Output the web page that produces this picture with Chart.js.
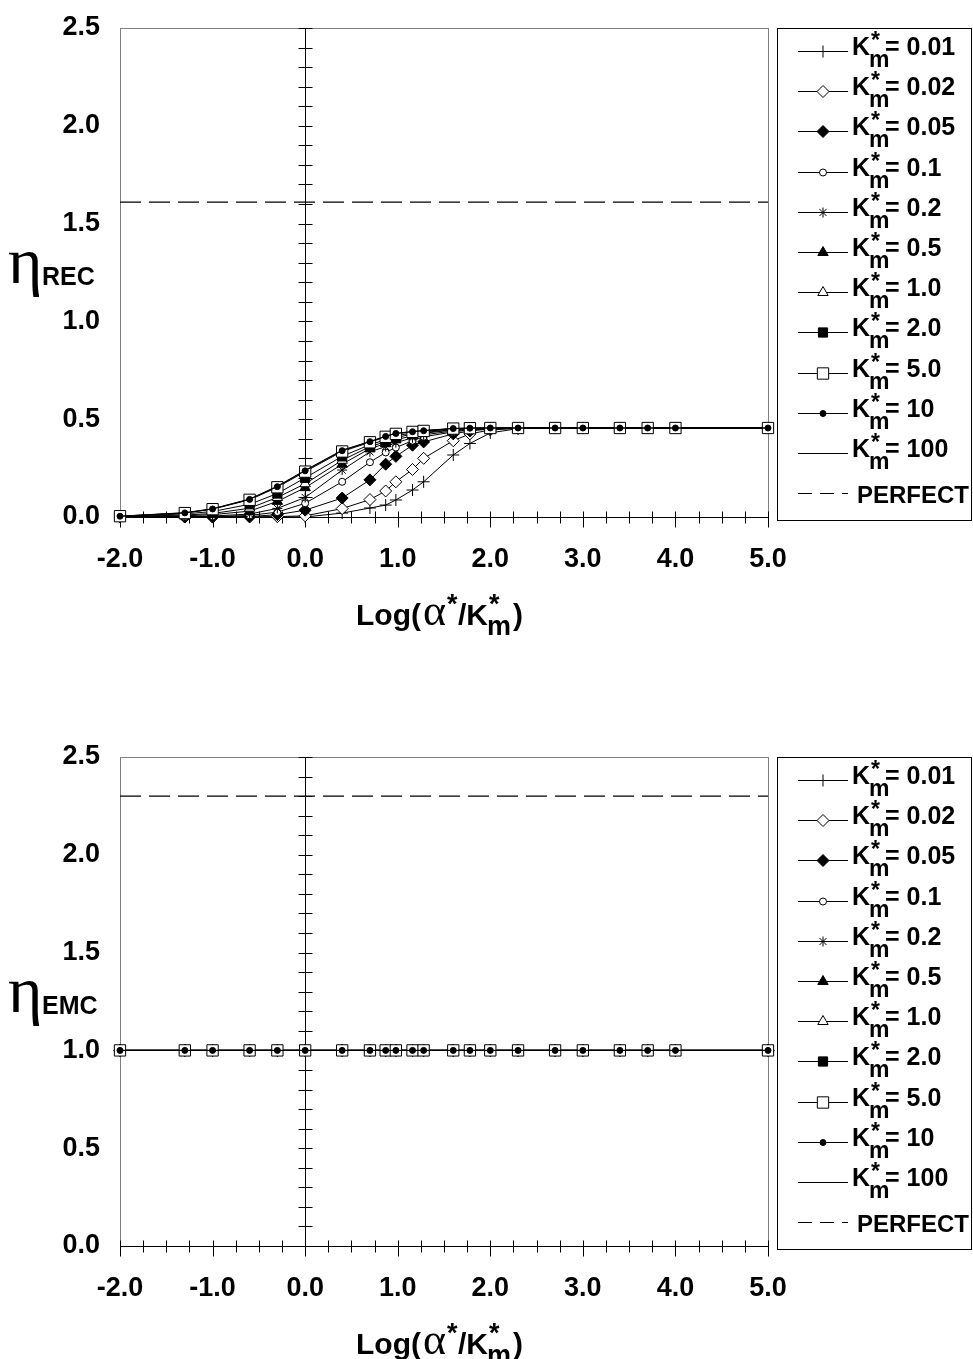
<!DOCTYPE html>
<html lang="en">
<head>
<meta charset="UTF-8">
<title>eta REC / eta EMC vs Log(alpha*/Km*)</title>
<script src="https://cdn.jsdelivr.net/npm/chart.js"></script>
<style>
  body { margin: 0; background: #fff; }
  #page { position: relative; width: 973px; height: 1359px; overflow: hidden;
          font-family: "Liberation Sans", Arial, sans-serif; color: #000; }
  canvas { position: absolute; left: 0; }
  .txt { position: absolute; white-space: nowrap; font-weight: bold; font-size: 25px; line-height: 25px; }
  .perf { font-size: 24px; }
  .big { font-size: 30px; line-height: 30px; }
  .sm { display: inline-block; position: relative; width: 15px; height: 25px; vertical-align: top; }
  .sp { position: absolute; left: 1px; top: -6px; font-size: 23px; }
  .sb { position: absolute; left: -1px; top: 13px; font-size: 23px; }
  .big .sm { width: 25px; height: 30px; }
  .big .sp { top: -7px; font-size: 27px; }
  .big .sb { top: 15px; font-size: 27px; }
  .eta { position: absolute; font-family: "Liberation Serif", serif; font-size: 66px; line-height: 66px; }
  .alpha { font-family: "Liberation Serif", serif; font-weight: normal; font-size: 44px; margin-left: 2px; }
</style>
</head>
<body>
<div id="page">
  <canvas id="recChart" width="973" height="650" style="top:0px"></canvas>
  <canvas id="emcChart" width="973" height="630" style="top:729px"></canvas>
</div>

<script>
// x positions: Log(alpha*/Km*)
const logX = [-2.0, -1.3, -1.0, -0.6, -0.3, 0.0, 0.4, 0.7, 0.87, 0.98, 1.16, 1.28, 1.6, 1.78, 2.0, 2.3, 2.7, 3.0, 3.4, 3.7, 4.0, 5.0];

const kmLabels = ['0.01', '0.02', '0.05', '0.1', '0.2', '0.5', '1.0', '2.0', '5.0', '10', '100'];

// eta REC, one array per Km*
const recK001 = [0.0, 0.0, 0.0, 0.0, 0.0, 0.0, 0.02, 0.046, 0.061, 0.087, 0.138, 0.18, 0.317, 0.376, 0.43, 0.452, 0.455, 0.455, 0.455, 0.455, 0.455, 0.455];
const recK002 = [0.0, 0.0, 0.0, 0.0, 0.002, 0.006, 0.043, 0.089, 0.133, 0.18, 0.243, 0.30, 0.39, 0.425, 0.445, 0.453, 0.455, 0.455, 0.455, 0.455, 0.455, 0.455];
const recK005 = [0.0, 0.0, 0.0, 0.002, 0.012, 0.035, 0.097, 0.19, 0.27, 0.31, 0.367, 0.384, 0.425, 0.44, 0.45, 0.455, 0.455, 0.455, 0.455, 0.455, 0.455, 0.455];
const recK01  = [0.0, 0.0, 0.002, 0.008, 0.025, 0.07, 0.18, 0.28, 0.33, 0.355, 0.39, 0.41, 0.435, 0.445, 0.45, 0.455, 0.455, 0.455, 0.455, 0.455, 0.455, 0.455];
const recK02  = [0.0, 0.002, 0.005, 0.015, 0.044, 0.10, 0.24, 0.333, 0.36, 0.38, 0.405, 0.42, 0.44, 0.448, 0.452, 0.455, 0.455, 0.455, 0.455, 0.455, 0.455, 0.455];
const recK05  = [0.001, 0.006, 0.012, 0.03, 0.08, 0.15, 0.27, 0.35, 0.375, 0.395, 0.415, 0.428, 0.445, 0.45, 0.454, 0.455, 0.455, 0.455, 0.455, 0.455, 0.455, 0.455];
const recK1   = [0.002, 0.01, 0.018, 0.045, 0.10, 0.17, 0.29, 0.36, 0.385, 0.405, 0.425, 0.432, 0.447, 0.452, 0.455, 0.455, 0.455, 0.455, 0.455, 0.455, 0.455, 0.455];
const recK2   = [0.003, 0.016, 0.028, 0.065, 0.12, 0.20, 0.31, 0.37, 0.395, 0.415, 0.43, 0.437, 0.45, 0.453, 0.455, 0.455, 0.455, 0.455, 0.455, 0.455, 0.455, 0.455];
const recK5   = [0.004, 0.02, 0.04, 0.088, 0.152, 0.232, 0.335, 0.382, 0.41, 0.425, 0.435, 0.44, 0.452, 0.454, 0.455, 0.455, 0.455, 0.455, 0.455, 0.455, 0.455, 0.455];
const recK10  = [0.004, 0.021, 0.041, 0.09, 0.155, 0.236, 0.339, 0.385, 0.412, 0.427, 0.436, 0.441, 0.452, 0.454, 0.455, 0.455, 0.455, 0.455, 0.455, 0.455, 0.455, 0.455];
const recK100 = [0.004, 0.022, 0.042, 0.092, 0.158, 0.239, 0.342, 0.386, 0.413, 0.428, 0.437, 0.442, 0.453, 0.455, 0.455, 0.455, 0.455, 0.455, 0.455, 0.455, 0.455, 0.455];

// eta EMC: every Km* series sits on 1.0
const emcAll = [1.0, 1.0, 1.0, 1.0, 1.0, 1.0, 1.0, 1.0, 1.0, 1.0, 1.0, 1.0, 1.0, 1.0, 1.0, 1.0, 1.0, 1.0, 1.0, 1.0, 1.0, 1.0];

const perfectREC = 1.61;
const perfectEMC = 2.30;

const xTickVals = [-2, -1, 0, 1, 2, 3, 4, 5];
const yTickVals = [0, 0.5, 1.0, 1.5, 2.0, 2.5];

const recSeries = [recK001, recK002, recK005, recK01, recK02, recK05, recK1, recK2, recK5, recK10, recK100];
const emcSeries = kmLabels.map(() => emcAll);

// marker look for each Km* (Excel style)
const markers = [
  { style: 'cross',    r: 6,   fill: '#000' },
  { style: 'rectRot',  r: 6,   fill: '#fff' },
  { style: 'rectRot',  r: 6,   fill: '#000' },
  { style: 'circle',   r: 3.5, fill: '#fff' },
  { style: 'star',     r: 5,   fill: '#fff' },
  { style: 'triangle', r: 6,   fill: '#000' },
  { style: 'triangle', r: 6,   fill: '#fff' },
  { style: 'rect',     r: 6.5, fill: '#000' },
  { style: 'rect',     r: 8,   fill: '#fff' },
  { style: 'circle',   r: 3,   fill: '#000' },
  { style: 'line',     r: 3,   fill: '#000' }
];

const PLOT_TOP = 28, PLOT_BOTTOM = 517;
const LEG = { left: 777, top: 28, w: 194, h: 492, first: 51, step: 40.2, x1: 798, x2: 848, tx: 852 };

// crossing axes at x=0 / y=0 with Excel style tick marks
const crossAxes = {
  id: 'crossAxes',
  beforeDatasetsDraw(chart) {
    const { ctx, chartArea: a, scales: { x, y } } = chart;
    ctx.save();
    ctx.lineWidth = 1;
    ctx.strokeStyle = '#808080';
    ctx.strokeRect(a.left + 0.5, a.top + 0.5, a.right - a.left, a.bottom - a.top);
    ctx.strokeStyle = '#000';
    ctx.beginPath();
    const y0 = Math.round(y.getPixelForValue(0)) + 0.5;
    ctx.moveTo(a.left, y0); ctx.lineTo(a.right + 1, y0);
    for (let i = 0; i <= 28; i++) {
      const v = -2 + i * 0.25;
      const px = Math.round(x.getPixelForValue(v)) + 0.5;
      const major = i % 4 === 0;
      ctx.moveTo(px, y0 - 6); ctx.lineTo(px, y0 + (major ? 10 : 6));
    }
    const x0 = Math.round(x.getPixelForValue(0)) + 0.5;
    ctx.moveTo(x0, a.top); ctx.lineTo(x0, a.bottom);
    for (let i = 0; i <= 25; i++) {
      const py = Math.round(y.getPixelForValue(i / 10)) + 0.5;
      ctx.moveTo(x0 - 7, py); ctx.lineTo(x0 + 7, py);
    }
    ctx.stroke();
    ctx.restore();
  }
};

function drawMarker(ctx, m, cx, cy) {
  ctx.fillStyle = m.fill;
  ctx.strokeStyle = '#000';
  ctx.lineWidth = 1;
  Chart.helpers.drawPoint(ctx, { pointStyle: m.style, radius: m.r, rotation: 0, borderWidth: 1 }, cx, cy);
}

// legend box with line samples; label text is html
const legendBox = {
  id: 'legendBox',
  afterDraw(chart) {
    const ctx = chart.ctx;
    ctx.save();
    ctx.strokeStyle = '#000';
    ctx.lineWidth = 1;
    ctx.strokeRect(LEG.left + 0.5, LEG.top + 0.5, LEG.w, LEG.h);
    chart.data.datasets.forEach((ds, i) => {
      const yy = Math.round(LEG.first + i * LEG.step) + 0.5;
      ctx.beginPath();
      ctx.setLineDash(ds.legendDash || []);
      ctx.moveTo(LEG.x1, yy); ctx.lineTo(LEG.x2, yy);
      ctx.stroke();
      ctx.setLineDash([]);
      if (ds.marker) drawMarker(ctx, ds.marker, (LEG.x1 + LEG.x2) / 2, yy);
    });
    ctx.restore();
  }
};

function makeChart(id, series, perfectY) {
  const datasets = series.map((vals, i) => ({
    label: 'K*m= ' + kmLabels[i],
    data: logX.map((v, j) => ({ x: v, y: vals[j] })),
    borderColor: '#000',
    borderWidth: 1,
    pointStyle: markers[i].style,
    pointRadius: markers[i].r,
    pointBackgroundColor: markers[i].fill,
    pointBorderColor: '#000',
    pointBorderWidth: 1,
    tension: 0,
    clip: false,
    order: 20 - i,
    marker: markers[i]
  }));
  datasets.push({
    label: 'PERFECT',
    data: [{ x: -2, y: perfectY }, { x: 5, y: perfectY }],
    borderColor: '#000',
    borderWidth: 1.4,
    borderDash: [21, 8],
    legendDash: [14, 8],
    pointRadius: 0,
    clip: false,
    order: 0
  });

  const cv = document.getElementById(id);
  return new Chart(cv.getContext('2d'), {
    type: 'line',
    data: { datasets },
    options: {
      responsive: false,
      animation: false,
      devicePixelRatio: 1,
      layout: { padding: { left: 0, right: 973 - 768, top: PLOT_TOP, bottom: cv.height - PLOT_BOTTOM - 60 } },
      plugins: { legend: { display: false }, tooltip: { enabled: false } },
      scales: {
        x: {
          type: 'linear', min: -2, max: 5,
          grid: { display: false, drawTicks: false },
          border: { display: false },
          afterBuildTicks: s => { s.ticks = xTickVals.map(v => ({ value: v })); },
          afterFit: s => { s.height = 60; s.paddingLeft = 0; s.paddingRight = 0; },
          ticks: {
            padding: 26, color: '#000',
            font: { family: 'Liberation Sans', size: 27, weight: 'bold' },
            callback: v => v.toFixed(1)
          }
        },
        y: {
          type: 'linear', min: 0, max: 2.5,
          grid: { display: false, drawTicks: false },
          border: { display: false },
          afterBuildTicks: s => { s.ticks = yTickVals.map(v => ({ value: v })); },
          afterFit: s => { s.width = 120; s.paddingTop = 0; s.paddingBottom = 0; },
          ticks: {
            padding: 20, color: '#000',
            font: { family: 'Liberation Sans', size: 27, weight: 'bold' },
            callback: v => v.toFixed(1)
          }
        }
      }
    },
    plugins: [crossAxes, legendBox]
  });
}

makeChart('recChart', recSeries, perfectREC);
makeChart('emcChart', emcSeries, perfectEMC);

// html text: legend labels and axis titles
const page = document.getElementById('page');
function kmHtml() {
  return 'K<span class="sm"><span class="sp">*</span><span class="sb">m</span></span>';
}
function addText(html, cls, left, top) {
  const d = document.createElement('div');
  d.className = cls;
  d.style.left = left + 'px';
  d.style.top = top + 'px';
  d.innerHTML = html;
  page.appendChild(d);
}
[0, 729].forEach((off, c) => {
  kmLabels.forEach((k, i) => {
    addText(kmHtml() + '= ' + k, 'txt', LEG.tx, off + Math.round(LEG.first + i * LEG.step) - 17);
  });
  addText('PERFECT', 'txt perf', LEG.tx + 5, off + Math.round(LEG.first + 11 * LEG.step) - 11);
  // y title
  addText('\u03B7', 'eta', 8, off + 228);
  addText(c === 0 ? 'REC' : 'EMC', 'txt', 42, off + 264);
  // x title
  addText('Log(<span class="alpha">\u03B1</span><span class="sm" style="width:12px"><span class="sp">*</span></span>/' + kmHtml() + ')',
          'txt big', 356, off + 596);
});
</script>
</body>
</html>
